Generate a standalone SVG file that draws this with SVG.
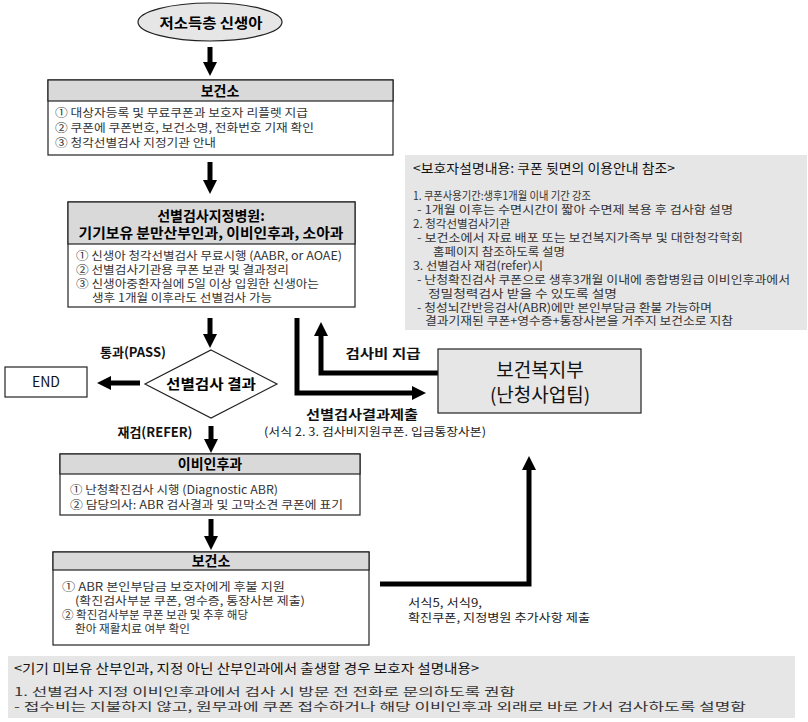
<svg xmlns="http://www.w3.org/2000/svg" width="808" height="722" viewBox="0 0 808 722">
<style>
text{font-family:"Noto Sans CJK KR","Noto Sans",sans-serif;}
.hd{font-size:14px;font-weight:bold;fill:#000;text-anchor:middle;}
.bd{font-size:11.5px;fill:#333;}
.lb{font-size:13px;font-weight:bold;fill:#111;}
.sm{font-size:11.5px;fill:#222;}
.box{fill:#fff;stroke:#222;stroke-width:1.2;}
.hdr{fill:#d9d9d9;stroke:#222;stroke-width:1.2;}
.info{fill:#e6e6e6;stroke:none;}
.arr{fill:none;stroke:#000;stroke-width:5;stroke-linejoin:miter;marker-end:url(#ah);}
</style>
<defs>
<marker id="ah" markerUnits="userSpaceOnUse" markerWidth="16" markerHeight="16" viewBox="0 0 16 16" refX="0" refY="8" orient="auto">
<path d="M0,1 L14,8 L0,15 z" fill="#000"/>
</marker>
</defs>
<g id="connectors">
<line class="arr" x1="210" y1="47" x2="210" y2="62"/>
<line class="arr" x1="210" y1="162" x2="210" y2="180"/>
<line class="arr" x1="210" y1="318" x2="210" y2="334"/>
<line class="arr" x1="140" y1="383" x2="111" y2="383"/>
<line class="arr" x1="211" y1="426" x2="211" y2="439"/>
<line class="arr" x1="211" y1="519" x2="211" y2="536"/>
<path class="arr" d="M297,318 V393 H412"/>
<path class="arr" d="M438,373 H321 V336"/>
<path class="arr" d="M380,584 H529 V470"/>
<text class="lb" x="133" y="357" text-anchor="middle">통과(PASS)</text>
<text class="lb" x="155" y="437" text-anchor="middle">재검(REFER)</text>
<text class="lb" x="383" y="358" text-anchor="middle" textLength="75" lengthAdjust="spacingAndGlyphs">검사비 지급</text>
<text class="lb" x="362" y="419" text-anchor="middle" textLength="112" lengthAdjust="spacingAndGlyphs" font-size="14">선별검사결과제출</text>
<text class="sm" x="375" y="436" text-anchor="middle" textLength="222" lengthAdjust="spacingAndGlyphs">(서식 2. 3. 검사비지원쿠폰. 입금통장사본)</text>
<text class="sm" x="408" y="607" textLength="74" lengthAdjust="spacingAndGlyphs">서식5, 서식9,</text>
<text class="sm" x="408" y="622" textLength="182" lengthAdjust="spacingAndGlyphs">확진쿠폰, 지정병원 추가사항 제출</text>
</g>
<g id="start">
<ellipse cx="210" cy="22" rx="72" ry="19" fill="#e6e6e6" stroke="#222" stroke-width="1.2"/>
<text class="hd" x="211" y="28" font-size="14.5" textLength="103" lengthAdjust="spacingAndGlyphs">저소득층 신생아</text>
</g>
<g id="box1">
<rect class="box" x="48" y="80" width="345" height="75"/>
<rect class="hdr" x="48" y="80" width="345" height="21"/>
<text class="hd" x="220" y="96">보건소</text>
<text class="bd" x="55" y="117" textLength="253" lengthAdjust="spacingAndGlyphs">① 대상자등록 및 무료쿠폰과 보호자 리플렛 지급</text>
<text class="bd" x="55" y="132" textLength="259" lengthAdjust="spacingAndGlyphs">② 쿠폰에 쿠폰번호, 보건소명, 전화번호 기재 확인</text>
<text class="bd" x="55" y="147" textLength="161" lengthAdjust="spacingAndGlyphs">③ 청각선별검사 지정기관 안내</text>
</g>
<g id="box2">
<rect class="box" x="68" y="202" width="287" height="105"/>
<rect class="hdr" x="68" y="202" width="287" height="42"/>
<text class="hd" x="211" y="221">선별검사지정병원:</text>
<text class="hd" x="211" y="238" textLength="265" lengthAdjust="spacingAndGlyphs">기기보유 분만산부인과, 이비인후과, 소아과</text>
<text class="bd" x="76" y="260" textLength="266" lengthAdjust="spacingAndGlyphs">① 신생아 청각선별검사 무료시행 (AABR, or AOAE)</text>
<text class="bd" x="76" y="274" textLength="213" lengthAdjust="spacingAndGlyphs">② 선별검사기관용 쿠폰 보관 및 결과정리</text>
<text class="bd" x="76" y="288" textLength="243" lengthAdjust="spacingAndGlyphs">③ 신생아중환자실에 5일 이상 입원한 신생아는</text>
<text class="bd" x="92" y="302" textLength="180" lengthAdjust="spacingAndGlyphs">생후 1개월 이후라도 선별검사 가능</text>
</g>
<g id="info-top">
<rect class="info" x="405" y="155" width="402" height="175"/>
<text x="413" y="173" font-size="13" fill="#111" textLength="262" lengthAdjust="spacingAndGlyphs">&lt;보호자설명내용: 쿠폰 뒷면의 이용안내 참조&gt;</text>
<text class="bd" x="413" y="200" textLength="178" lengthAdjust="spacingAndGlyphs">1. 쿠폰사용기간:생후1개월 이내 기간 강조</text>
<text class="bd" x="417" y="214" textLength="316" lengthAdjust="spacingAndGlyphs">- 1개월 이후는 수면시간이 짧아 수면제 복용 후 검사함 설명</text>
<text class="bd" x="413" y="228" textLength="97" lengthAdjust="spacingAndGlyphs">2. 청각선별검사기관</text>
<text class="bd" x="417" y="242" textLength="326" lengthAdjust="spacingAndGlyphs">- 보건소에서 자료 배포 또는 보건복지가족부 및 대한청각학회</text>
<text class="bd" x="433" y="256" textLength="132" lengthAdjust="spacingAndGlyphs">홈페이지 참조하도록 설명</text>
<text class="bd" x="413" y="270" textLength="130" lengthAdjust="spacingAndGlyphs">3. 선별검사 재검(refer)시</text>
<text class="bd" x="417" y="284" textLength="373" lengthAdjust="spacingAndGlyphs">- 난청확진검사 쿠폰으로 생후3개월 이내에 종합병원급 이비인후과에서</text>
<text class="bd" x="428" y="298" textLength="189" lengthAdjust="spacingAndGlyphs">정밀청력검사 받을 수 있도록 설명</text>
<text class="bd" x="417" y="312" textLength="295" lengthAdjust="spacingAndGlyphs">- 청성뇌간반응검사(ABR)에만  본인부담금 환불 가능하며</text>
<text class="bd" x="425" y="325" textLength="308" lengthAdjust="spacingAndGlyphs">결과기재된 쿠폰+영수증+통장사본을 거주지 보건소로 지참</text>
</g>
<g id="decision">
<polygon points="211,350 277,384 211,418 145,384" fill="#fff" stroke="#222" stroke-width="1.2"/>
<text class="hd" x="211" y="389" font-size="13.5" textLength="90" lengthAdjust="spacingAndGlyphs">선별검사 결과</text>
</g>
<g id="end">
<rect class="box" x="5" y="367" width="82" height="30"/>
<text x="46" y="387" font-size="14" fill="#111" text-anchor="middle" font-family="Liberation Sans, sans-serif">END</text>
</g>
<g id="ministry">
<rect x="438" y="349" width="203" height="64" fill="#e6e6e6" stroke="#222" stroke-width="1.2"/>
<text x="540" y="377" font-size="19" fill="#111" text-anchor="middle">보건복지부</text>
<text x="540" y="402" font-size="19" fill="#111" text-anchor="middle">(난청사업팀)</text>
</g>
<g id="box3">
<rect class="box" x="60" y="454" width="300" height="61"/>
<rect class="hdr" x="60" y="454" width="300" height="20"/>
<text class="hd" x="210" y="469">이비인후과</text>
<text class="bd" x="70" y="494" textLength="208" lengthAdjust="spacingAndGlyphs">①  난청확진검사 시행 (Diagnostic ABR)</text>
<text class="bd" x="70" y="509" textLength="273" lengthAdjust="spacingAndGlyphs">②  담당의사: ABR 검사결과 및 고막소견 쿠폰에 표기</text>
</g>
<g id="box4">
<rect class="box" x="53" y="552" width="316" height="93"/>
<rect class="hdr" x="53" y="552" width="316" height="18"/>
<text class="hd" x="211" y="566">보건소</text>
<text class="bd" x="62" y="591" textLength="223" lengthAdjust="spacingAndGlyphs">① ABR 본인부담금 보호자에게 후불 지원</text>
<text class="bd" x="75" y="605" textLength="230" lengthAdjust="spacingAndGlyphs">(확진검사부분 쿠폰, 영수증, 통장사본 제출)</text>
<text class="bd" x="62" y="619" textLength="186" lengthAdjust="spacingAndGlyphs">② 확진검사부분 쿠폰 보관 및 추후 해당</text>
<text class="bd" x="75" y="633" textLength="115" lengthAdjust="spacingAndGlyphs">환아 재활치료 여부 확인</text>
</g>
<g id="info-bottom">
<rect class="info" x="8" y="656" width="787" height="62"/>
<text x="14" y="673" font-size="13" fill="#111" textLength="465" lengthAdjust="spacingAndGlyphs">&lt;기기 미보유 산부인과, 지정 아닌 산부인과에서 출생할 경우 보호자 설명내용&gt;</text>
<text class="bd" x="14" y="696" textLength="501" lengthAdjust="spacingAndGlyphs">1. 선별검사 지정 이비인후과에서 검사 시 방문 전 전화로 문의하도록 권함</text>
<text class="bd" x="14" y="711" textLength="732" lengthAdjust="spacingAndGlyphs">-    접수비는 지불하지 않고, 원무과에 쿠폰 접수하거나 해당 이비인후과 외래로 바로 가서 검사하도록 설명함</text>
</g>
</svg>
